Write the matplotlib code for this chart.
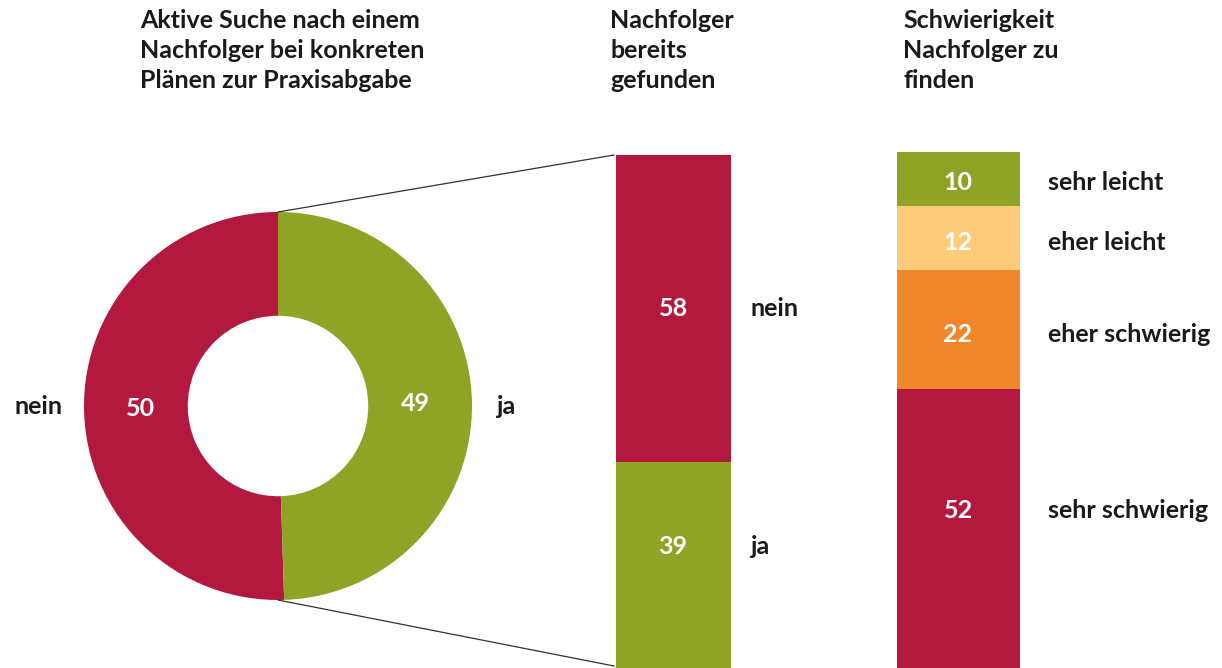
import matplotlib
matplotlib.use('Agg')
import matplotlib.pyplot as plt

plt.rcParams['font.family'] = ['Lato', 'DejaVu Sans']

# Data
donut_labels = ['nein', 'ja']
donut_values = [50, 49]

found_labels = ['nein', 'ja']
found_values = [58, 39]

diff_labels = ['sehr leicht', 'eher leicht', 'eher schwierig', 'sehr schwierig']
diff_values = [10, 12, 22, 52]

titles = ['Aktive Suche nach einem\nNachfolger bei konkreten\nPlänen zur Praxisabgabe',
          'Nachfolger\nbereits\ngefunden',
          'Schwierigkeit\nNachfolger zu\nfinden']

RED = '#B3193E'
GREEN = '#8FA427'
LIGHT = '#FDCB79'
ORANGE = '#F1872B'
TXT = '#1a1a1a'

W, H = 1222, 668
fig = plt.figure(figsize=(W / 100, H / 100), dpi=100)

def px_axes(x0, y0, x1, y1):
    # axes from pixel box (top-left origin)
    return fig.add_axes([x0 / W, (H - y1) / H, (x1 - x0) / W, (y1 - y0) / H])

# donut
cx, cy, R = 278, 406, 194
ax_d = px_axes(cx - R, cy - R, cx + R, cy + R)
total = sum(donut_values)
wedges, _, autotexts = ax_d.pie(
    donut_values, colors=[RED, GREEN], startangle=90, counterclock=True,
    radius=1, wedgeprops=dict(width=0.535, linewidth=0),
    autopct=lambda p: f'{p * total / 100:.0f}', pctdistance=0.71)
for t in autotexts:
    t.set_color('white')
    t.set_fontsize(18)
    t.set_fontweight('bold')
ax_d.set_xlim(-1, 1)
ax_d.set_ylim(-1, 1)
ax_d.axis('off')

# bar: successor found
ax_b1 = px_axes(616, 155, 731, H)
bottom = 0
for v, c in zip(found_values[::-1], [GREEN, RED]):
    ax_b1.bar(0, v, bottom=bottom, width=1, color=c, linewidth=0)
    bottom += v
ax_b1.set_xlim(-0.5, 0.5)
ax_b1.set_ylim(0, sum(found_values))
ax_b1.axis('off')

# bar: difficulty
ax_b2 = px_axes(897, 152, 1020, H)
bottom = 0
for v, c in zip(diff_values[::-1], [RED, ORANGE, LIGHT, GREEN]):
    ax_b2.bar(0, v, bottom=bottom, width=1, color=c, linewidth=0)
    bottom += v
ax_b2.set_xlim(-0.5, 0.5)
ax_b2.set_ylim(0, sum(diff_values))
ax_b2.axis('off')

# overlay for titles, labels and connector lines (on top)
ov = fig.add_axes([0, 0, 1, 1])
ov.set_xlim(0, W)
ov.set_ylim(H, 0)
ov.axis('off')
ov.patch.set_alpha(0)

# connector lines
ov.plot([cx, 614], [cy - R, 155], color='#333333', lw=0.9)
ov.plot([cx, 614], [cy + R, 666], color='#333333', lw=0.9)

fs = 18
# titles
for x, t in zip([140, 610, 903], titles):
    ov.text(x, 9, t, ha='left', va='top', fontsize=fs, fontweight='bold',
            color=TXT, linespacing=1.38)

# donut labels
ov.text(15, 406, donut_labels[0], ha='left', va='center', fontsize=fs,
        fontweight='bold', color=TXT)
ov.text(497, 406, donut_labels[1], ha='left', va='center', fontsize=fs,
        fontweight='bold', color=TXT)

# bar 1 labels
for y, lab, v in zip([309, 547], found_labels, found_values):
    ov.text(673, y, str(v), ha='center', va='center', fontsize=fs,
            fontweight='bold', color='white')
    ov.text(751, y, lab, ha='left', va='center', fontsize=fs,
            fontweight='bold', color=TXT)

# bar 2 labels
for y, lab, v in zip([183, 242, 334, 510], diff_labels, diff_values):
    ov.text(958, y, str(v), ha='center', va='center', fontsize=fs,
            fontweight='bold', color='white')
    ov.text(1048, y, lab, ha='left', va='center', fontsize=fs,
            fontweight='bold', color=TXT)

plt.savefig('out.png', dpi=100)
